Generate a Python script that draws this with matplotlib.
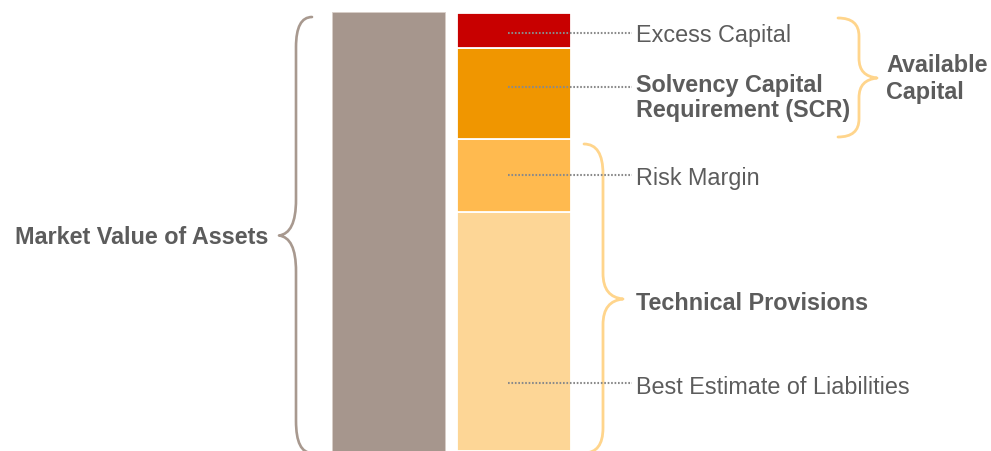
import matplotlib
matplotlib.use("Agg")
import matplotlib.pyplot as plt
from matplotlib.path import Path
from matplotlib.patches import PathPatch

# ---- data (heights, arbitrary units) ----
asset_label = "Market Value of Assets"
asset_value = 439
segment_labels = ["Best Estimate of Liabilities", "Risk Margin",
                  "Solvency Capital\nRequirement (SCR)", "Excess Capital"]
segment_values = [239, 73, 91.5, 34.5]
segment_colors = ["#FDD696", "#FFBA4F", "#F09600", "#C80000"]
group_labels = ["Available\nCapital", "Technical Provisions"]

W, H = 991, 451
fig = plt.figure(figsize=(W / 100, H / 100), dpi=100)
ax = fig.add_axes([0, 0, 1, 1])
ax.set_xlim(0, W)
ax.set_ylim(0, H)
ax.axis("off")

FONT = "Liberation Sans"
FS = 16.8
TXT = "#5C5C5C"

def py(y):  # top-down pixel -> axis y
    return H - y

# assets bar
ax.bar(388.5, asset_value, width=113.5, bottom=0, color="#A6968D",
       edgecolor="#D8CEC8", linewidth=0.6)

# stacked bar
bottom = 0
for v, c in zip(segment_values, segment_colors):
    ax.bar(513.7, v, width=114, bottom=bottom, color=c,
           edgecolor="white", linewidth=1.3)
    bottom += v

# leader lines (y positions in pixel rows)
leader_y = [382.7, 174.5, 87, 32.5]
for ly in leader_y:
    ax.plot([508, 632], [py(ly), py(ly)], color="#8A8A8A", lw=1.5,
            linestyle=(0, (0.8, 0.85)), solid_capstyle="butt",
            dash_capstyle="butt")

def text(x, ybase, s, bold=False, ha="left"):
    ax.text(x, py(ybase), s, fontsize=FS, family=FONT, color=TXT,
            fontweight="bold" if bold else "normal", ha=ha, va="baseline")

# segment labels
text(636, 393.5, segment_labels[0])
text(636, 185.5, segment_labels[1])
l1, l2 = segment_labels[2].split("\n")
text(636, 91.7, l1, bold=True)
text(636, 116.7, l2, bold=True)
text(636, 41.7, segment_labels[3])

# group labels
a1, a2 = group_labels[0].split("\n")
text(886, 72.5, a1, bold=True)
text(886, 99.0, a2, bold=True)
text(636, 310, group_labels[1], bold=True)
text(268, 243.5, asset_label, bold=True, ha="right")

def brace(x_end, x_v, x_tip, y_top, y_bot, y_tip, r_top, r_bot, r_tip,
          color, lw, x_end_bot=None):
    if x_end_bot is None:
        x_end_bot = x_end
    d = x_tip - x_v
    verts = [
        (x_end, y_top),
        (x_v, y_top), (x_v, y_top + r_top),
        (x_v, y_tip - r_tip),
        (x_v, y_tip - r_tip * 0.35), (x_v + d * 0.35, y_tip - 1.5), (x_tip, y_tip),
        (x_v + d * 0.35, y_tip + 1.5), (x_v, y_tip + r_tip * 0.35), (x_v, y_tip + r_tip),
        (x_v, y_bot - r_bot),
        (x_v, y_bot), (x_end_bot, y_bot),
    ]
    codes = [Path.MOVETO,
             Path.CURVE3, Path.CURVE3,
             Path.LINETO,
             Path.CURVE4, Path.CURVE4, Path.CURVE4,
             Path.CURVE4, Path.CURVE4, Path.CURVE4,
             Path.LINETO,
             Path.CURVE3, Path.CURVE3]
    verts = [(x, py(y)) for x, y in verts]
    ax.add_patch(PathPatch(Path(verts, codes), facecolor="none",
                           edgecolor=color, lw=lw, capstyle="round",
                           joinstyle="round"))

brace(312, 296, 279, 17, 453, 235.5, 30, 32, 36, "#A8998F", 1.9)
brace(838, 859, 877, 18, 137, 78, 18, 18, 20, "#FFD58C", 2.0)
brace(584, 603, 623, 144, 453, 299, 30, 25, 26, "#FFD58C", 2.0)

fig.savefig("out.png", dpi=100)
